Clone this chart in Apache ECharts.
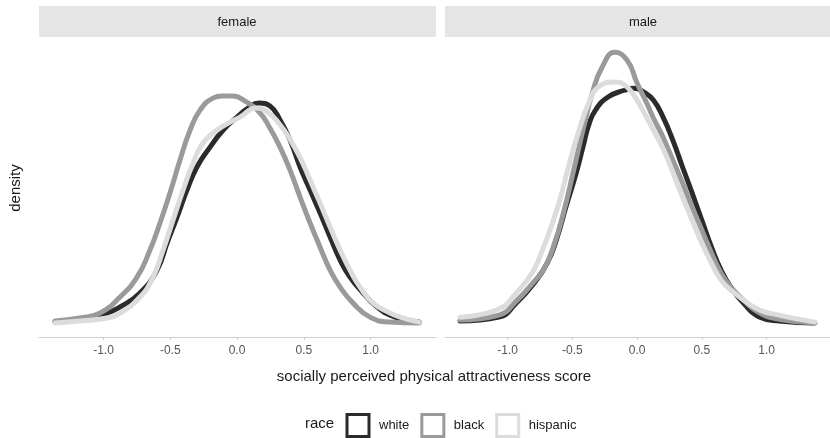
<!DOCTYPE html>
<html>
<head>
<meta charset="utf-8">
<script src="https://cdn.jsdelivr.net/npm/echarts@6/dist/echarts.min.js"></script>
<style>
  html, body { margin: 0; padding: 0; background: #ffffff; }
  #chart { width: 830px; height: 438px; }
</style>
</head>
<body>
<div id="chart"></div>
<script>
// Panels and groups
const panels = ['female', 'male'];
const races = ['white', 'black', 'hispanic'];
const raceColors = ['#2b2b2b', '#9a9a9a', '#dcdcdc'];
const xTicks = [-1.0, -0.5, 0.0, 0.5, 1.0];

// Density estimates [score, density] for each panel and race
const femaleWhite = [[-1.363,0.006],[-1.176,0.019],[-0.974,0.046],[-0.876,0.073],[-0.727,0.135],[-0.599,0.236],[-0.524,0.356],[-0.449,0.471],[-0.375,0.591],[-0.300,0.693],[-0.202,0.781],[-0.105,0.856],[0.000,0.914],[0.082,0.954],[0.165,0.976],[0.247,0.963],[0.322,0.901],[0.397,0.812],[0.472,0.693],[0.547,0.591],[0.622,0.489],[0.697,0.383],[0.772,0.281],[0.846,0.205],[0.944,0.135],[1.049,0.073],[1.184,0.028],[1.363,0.006]];
const femaleBlack = [[-1.363,0.011],[-1.176,0.024],[-1.026,0.046],[-0.876,0.117],[-0.749,0.205],[-0.652,0.325],[-0.577,0.445],[-0.502,0.578],[-0.427,0.724],[-0.352,0.856],[-0.277,0.945],[-0.180,0.998],[-0.112,1.007],[-0.037,1.007],[0.060,0.985],[0.172,0.932],[0.247,0.865],[0.322,0.781],[0.397,0.679],[0.472,0.560],[0.547,0.445],[0.622,0.338],[0.697,0.236],[0.772,0.161],[0.869,0.090],[0.996,0.028],[1.146,0.006],[1.363,0.002]];
const femaleHispanic = [[-1.363,0.002],[-1.176,0.011],[-0.974,0.024],[-0.876,0.046],[-0.727,0.117],[-0.629,0.205],[-0.554,0.325],[-0.479,0.458],[-0.404,0.591],[-0.330,0.710],[-0.255,0.799],[-0.150,0.856],[-0.052,0.892],[0.022,0.914],[0.142,0.954],[0.232,0.935],[0.322,0.880],[0.397,0.815],[0.472,0.735],[0.547,0.635],[0.622,0.533],[0.697,0.427],[0.772,0.325],[0.846,0.236],[0.921,0.161],[1.019,0.090],[1.146,0.046],[1.221,0.028],[1.363,0.006]];
const maleWhite = [[-1.366,0.011],[-1.067,0.028],[-0.933,0.090],[-0.806,0.170],[-0.694,0.267],[-0.619,0.378],[-0.545,0.524],[-0.470,0.666],[-0.418,0.781],[-0.373,0.879],[-0.321,0.945],[-0.224,1.003],[-0.097,1.033],[-0.022,1.042],[0.052,1.025],[0.127,0.989],[0.201,0.914],[0.276,0.812],[0.351,0.693],[0.425,0.578],[0.500,0.458],[0.575,0.338],[0.649,0.236],[0.724,0.161],[0.821,0.090],[0.948,0.028],[1.097,0.011],[1.373,0.002]];
const maleBlack = [[-1.366,0.015],[-1.067,0.037],[-0.933,0.099],[-0.806,0.179],[-0.716,0.245],[-0.642,0.347],[-0.567,0.493],[-0.493,0.670],[-0.418,0.856],[-0.343,1.025],[-0.269,1.136],[-0.172,1.201],[-0.075,1.165],[0.000,1.065],[0.075,0.976],[0.127,0.909],[0.201,0.825],[0.276,0.724],[0.351,0.622],[0.425,0.516],[0.500,0.414],[0.575,0.312],[0.649,0.223],[0.724,0.161],[0.821,0.104],[0.948,0.046],[1.097,0.019],[1.373,0.002]];
const maleHispanic = [[-1.366,0.028],[-1.067,0.064],[-0.933,0.135],[-0.806,0.228],[-0.731,0.325],[-0.672,0.414],[-0.597,0.546],[-0.522,0.710],[-0.448,0.856],[-0.373,0.976],[-0.299,1.047],[-0.172,1.069],[-0.100,1.058],[-0.030,1.015],[0.030,0.960],[0.104,0.880],[0.201,0.775],[0.276,0.670],[0.351,0.560],[0.425,0.458],[0.500,0.356],[0.575,0.267],[0.649,0.192],[0.724,0.148],[0.821,0.104],[0.948,0.059],[1.097,0.037],[1.246,0.019],[1.373,0.006]];

const panelData = [
  [femaleWhite, femaleBlack, femaleHispanic],
  [maleWhite, maleBlack, maleHispanic]
];

const FONT = '"Liberation Sans", Arial, sans-serif';
const gridLeft = [39, 445];
const gridWidth = 397;
const gridTop = 39;
const gridHeight = 298;

const chart = echarts.init(document.getElementById('chart'), null, { renderer: 'canvas' });

const grids = panels.map((p, i) => ({ left: gridLeft[i], top: gridTop, width: gridWidth, height: gridHeight, containLabel: false }));
const xAxes = panels.map((p, i) => ({
  type: 'value', gridIndex: i, min: -1.483, max: 1.49,
  splitLine: { show: false },
  axisLine: { show: true, onZero: false, lineStyle: { color: '#cfcfcf', width: 1 } },
  axisTick: { show: true, customValues: xTicks, length: 3, lineStyle: { color: '#cfcfcf' } },
  axisLabel: { show: true, customValues: xTicks, color: '#555555', fontSize: 12, fontFamily: FONT, margin: 8,
    formatter: v => v.toFixed(1) }
}));
const yAxes = panels.map((p, i) => ({
  type: 'value', gridIndex: i, min: -0.06, max: 1.26, show: false
}));

const series = [];
panels.forEach((p, i) => {
  races.forEach((r, j) => {
    series.push({
      name: r, type: 'line', xAxisIndex: i, yAxisIndex: i,
      data: panelData[i][j], smooth: 0.5, showSymbol: false, symbol: 'none',
      lineStyle: { color: raceColors[j], width: 5, cap: 'round', join: 'round' },
      itemStyle: { color: raceColors[j] },
      z: 2 + j, silent: true
    });
  });
});

const graphics = [];
panels.forEach((p, i) => {
  graphics.push({
    type: 'rect', left: gridLeft[i], top: 6,
    shape: { width: gridWidth, height: 31 },
    style: { fill: '#e5e5e5' }, silent: true
  });
  graphics.push({
    type: 'text', x: gridLeft[i] + 198, y: 22,
    style: { text: p, font: '13px ' + FONT, fill: '#1a1a1a', textAlign: 'center', textVerticalAlign: 'middle' }
  });
});
graphics.push({
  type: 'text', x: 16, y: 188, rotation: Math.PI / 2,
  style: { text: 'density', font: '15px ' + FONT, fill: '#1a1a1a', textAlign: 'center', textVerticalAlign: 'middle' }
});
graphics.push({
  type: 'text', x: 434, y: 377,
  style: { text: 'socially perceived physical attractiveness score', font: '15px ' + FONT, fill: '#1a1a1a', textAlign: 'center', textVerticalAlign: 'middle' }
});
graphics.push({
  type: 'text', x: 305, y: 424,
  style: { text: 'race', font: '15px ' + FONT, fill: '#1a1a1a', textAlign: 'left', textVerticalAlign: 'middle' }
});

chart.setOption({
  animation: false,
  backgroundColor: '#ffffff',
  grid: grids,
  xAxis: xAxes,
  yAxis: yAxes,
  series: series,
  legend: {
    left: 345.5, top: 413, orient: 'horizontal', padding: 0,
    itemWidth: 22, itemHeight: 22, itemGap: 11, icon: 'rect',
    selectedMode: false,
    textStyle: { fontFamily: FONT, fontSize: 13, color: '#1a1a1a', padding: [0, 0, 0, 5] },
    data: races.map((r, j) => ({
      name: r, icon: 'rect',
      itemStyle: { color: '#ffffff', borderColor: raceColors[j], borderWidth: 3 }
    }))
  },
  graphic: graphics
});
</script>
</body>
</html>
